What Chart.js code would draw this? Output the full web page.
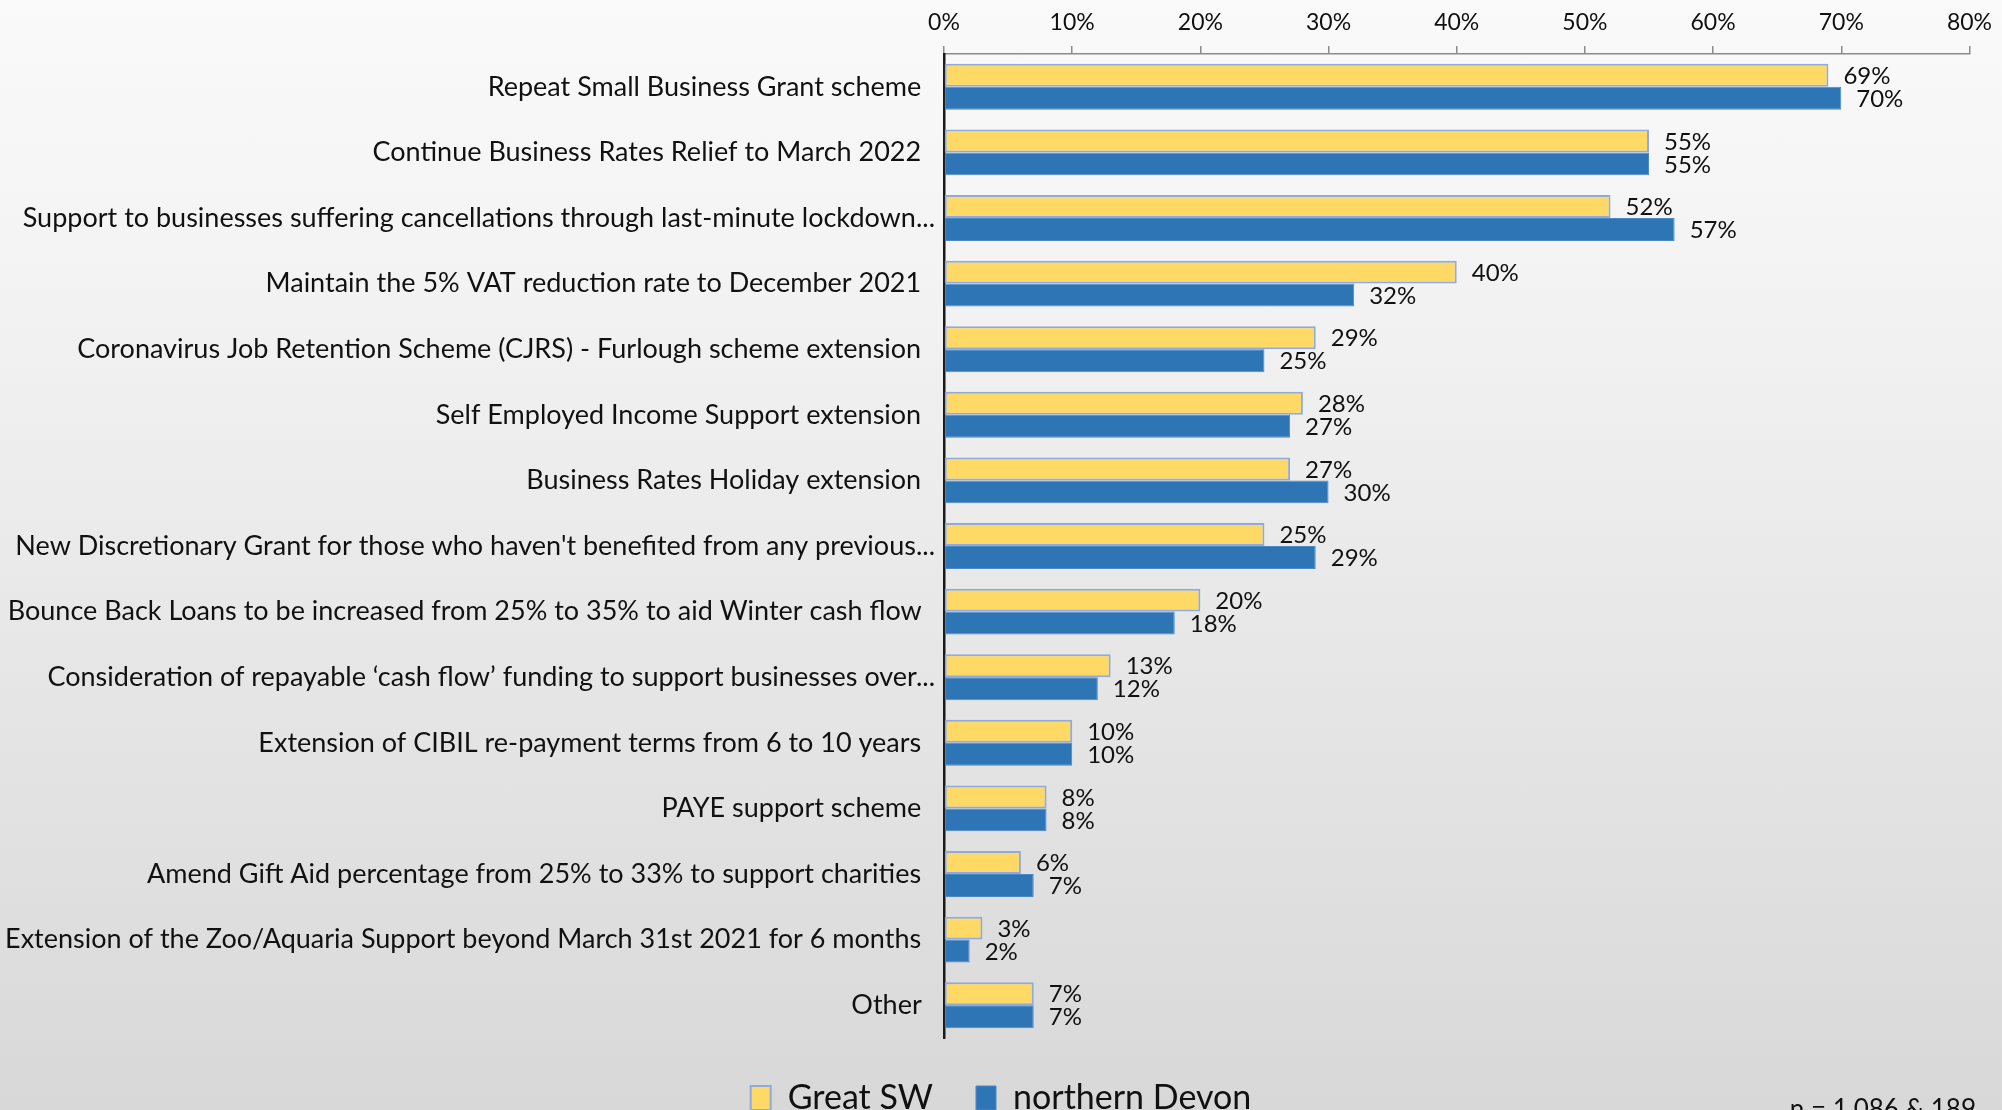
<!DOCTYPE html>
<html>
<head>
<meta charset="utf-8">
<title>Support measures wanted</title>
<script src="https://cdn.jsdelivr.net/npm/chart.js@4.4.1/dist/chart.umd.min.js"></script>
<style>
  html, body { margin: 0; padding: 0; overflow: hidden; }
  #frame {
    width: 2002px; height: 1110px; overflow: hidden; position: relative;
    background: linear-gradient(to bottom, #fafafa 0%, #f3f3f3 25%, #d8d8d8 100%);
  }
  #box { width: 2002px; height: 1125px; position: absolute; left: 0; top: 0; }
</style>
</head>
<body>
<div id="frame"><div id="box"><canvas id="chart"></canvas></div></div>
<script>
// Measures, in the order they are listed
const categories = [
  "Repeat Small Business Grant scheme",
  "Continue Business Rates Relief to March 2022",
  "Support to businesses suffering cancellations through last-minute lockdown...",
  "Maintain the 5% VAT reduction rate to December 2021",
  "Coronavirus Job Retention Scheme (CJRS) - Furlough scheme extension",
  "Self Employed Income Support extension",
  "Business Rates Holiday extension",
  "New Discretionary Grant for those who haven't benefited from any previous...",
  "Bounce Back Loans to be increased from 25% to 35% to aid Winter cash flow",
  "Consideration of repayable \u2018cash flow\u2019 funding to support businesses over...",
  "Extension of CIBIL re-payment terms from 6 to 10 years",
  "PAYE support scheme",
  "Amend Gift Aid percentage from 25% to 33% to support charities",
  "Extension of the Zoo/Aquaria Support beyond March 31st 2021 for 6 months",
  "Other"
];

// Share of respondents choosing each measure (%)
const greatSW       = [69, 55, 52, 40, 29, 28, 27, 25, 20, 13, 10, 8, 6, 3, 7];
const northernDevon = [70, 55, 57, 32, 25, 27, 30, 29, 18, 12, 10, 8, 7, 2, 7];

// Axis ticks (%)
const xTicks = [0, 10, 20, 30, 40, 50, 60, 70, 80];

const sampleNote = "n = 1,086 & 189";

const FONT = "Lato, 'DejaVu Sans', sans-serif";
const INK = "#111111";

// Value labels just past the end of each bar
const valueLabels = {
  id: "valueLabels",
  afterDatasetsDraw(chart) {
    const ctx = chart.ctx;
    ctx.save();
    ctx.font = "24px " + FONT;
    ctx.fillStyle = INK;
    ctx.textAlign = "left";
    ctx.textBaseline = "middle";
    chart.data.datasets.forEach((ds, di) => {
      const meta = chart.getDatasetMeta(di);
      meta.data.forEach((bar, i) => {
        ctx.fillText(ds.data[i] + "%", bar.x + 15, bar.y + 1);
      });
    });
    ctx.restore();
  }
};

// Sample size note in the lower right corner
const noteText = {
  id: "noteText",
  afterDraw(chart) {
    const ctx = chart.ctx;
    ctx.save();
    ctx.font = "26px " + FONT;
    ctx.fillStyle = INK;
    ctx.textAlign = "right";
    ctx.textBaseline = "alphabetic";
    ctx.fillText(sampleNote, 1976, 1118);
    ctx.restore();
  }
};

new Chart(document.getElementById("chart"), {
  type: "bar",
  data: {
    labels: categories,
    datasets: [
      {
        label: "Great SW",
        data: greatSW,
        backgroundColor: "#FFD966",
        borderColor: "#8FAADC",
        borderWidth: 2,
        borderSkipped: false,
        categoryPercentage: 0.7,
        barPercentage: 1.0
      },
      {
        label: "northern Devon",
        data: northernDevon,
        backgroundColor: "#2E75B6",
        borderColor: "#4A88C8",
        borderWidth: 1,
        borderSkipped: false,
        categoryPercentage: 0.7,
        barPercentage: 1.0
      }
    ]
  },
  options: {
    indexAxis: "y",
    responsive: true,
    maintainAspectRatio: false,
    animation: false,
    layout: { padding: { left: 0, right: 0, top: 0, bottom: 0 } },
    plugins: {
      legend: {
        position: "bottom",
        labels: {
          font: { family: FONT, size: 34 },
          color: INK,
          boxWidth: 20,
          boxHeight: 24,
          padding: 43
        }
      },
      tooltip: { enabled: false }
    },
    scales: {
      x: {
        position: "top",
        min: 0,
        max: 80,
        afterBuildTicks(scale) {
          scale.ticks = xTicks.map(v => ({ value: v }));
        },
        afterFit(scale) { scale.height = 54; },
        ticks: {
          callback: v => v + "%",
          font: { family: FONT, size: 23 },
          color: INK,
          padding: 10
        },
        grid: {
          drawOnChartArea: false,
          drawTicks: true,
          tickLength: 8,
          color: "#8c8c8c",
          lineWidth: 1.5
        },
        border: { display: true, color: "#8c8c8c", width: 1.5 }
      },
      y: {
        afterFit(scale) { scale.width = 944; },
        ticks: {
          autoSkip: false,
          font: { family: FONT, size: 27 },
          color: INK,
          padding: 1,
          callback(value) {
            const text = categories[value];
            // Full-length labels sit a little further from the axis than shortened ones
            return text.endsWith("...") ? text : text + "\u00A0\u00A0";
          }
        },
        grid: { display: false },
        border: { display: true, color: "#1a1a1a", width: 2.5 }
      }
    }
  },
  plugins: [valueLabels, noteText]
});
</script>
</body>
</html>
